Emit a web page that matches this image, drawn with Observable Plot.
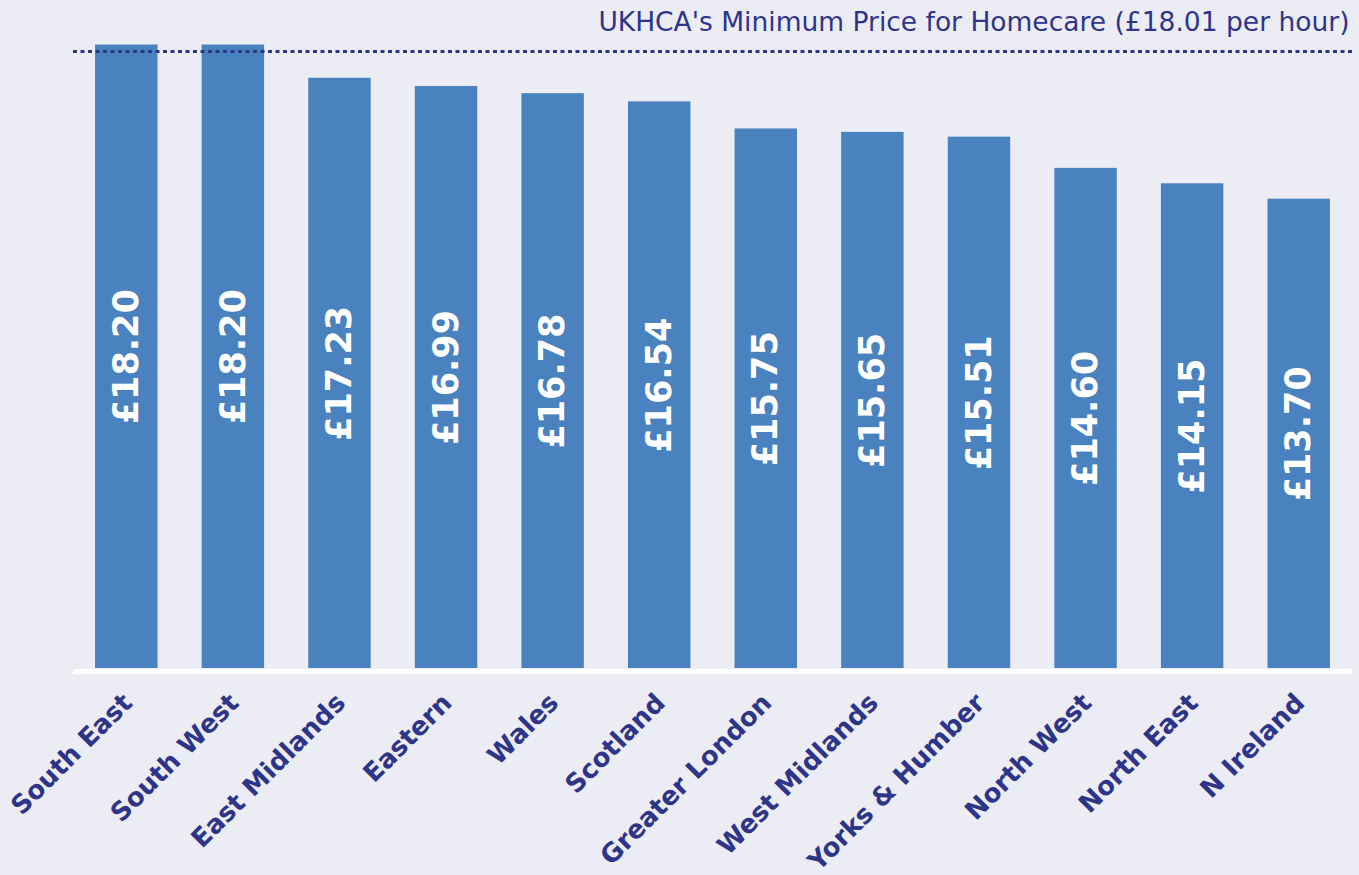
<!DOCTYPE html>
<html>
<head>
<meta charset="utf-8">
<script src="https://cdn.jsdelivr.net/npm/d3@7"></script>
<script src="https://cdn.jsdelivr.net/npm/@observablehq/plot@0.6"></script>
<style>
  html, body { margin: 0; padding: 0; background: #ECECF4; }
</style>
</head>
<body>
<div id="chart"></div>
<script>
const regions = ["South East", "South West", "East Midlands", "Eastern", "Wales", "Scotland", "Greater London", "West Midlands", "Yorks & Humber", "North West", "North East", "N Ireland"];
const prices = [18.20, 18.20, 17.23, 16.99, 16.78, 16.54, 15.75, 15.65, 15.51, 14.60, 14.15, 13.70];
const minimumPrice = 18.01;
const titleText = "UKHCA's Minimum Price for Homecare (£18.01 per hour)";

const data = regions.map((region, i) => ({region, price: prices[i]}));

const navy = "#2E3589";
const barBlue = "#4A82C0";

const chart = Plot.plot({
  width: 1359,
  height: 875,
  marginLeft: 73,
  marginRight: 7,
  marginTop: 0,
  marginBottom: 207,
  style: {background: "#ECECF4", fontFamily: "DejaVu Sans, Verdana, sans-serif"},
  x: {domain: regions, paddingInner: 0.414, paddingOuter: 0.207, round: false, label: null},
  y: {domain: [0, 19.5], axis: null},
  marks: [
    Plot.barY(data, {x: "region", y: "price", fill: barBlue}),
    Plot.ruleY([0], {stroke: "white", strokeWidth: 5, dy: 3}),
    Plot.ruleY([minimumPrice], {stroke: navy, strokeWidth: 3, strokeDasharray: "4,3.5"}),
    Plot.text(data, {
      x: "region",
      y: d => d.price / 2,
      text: d => "£" + d.price.toFixed(2),
      rotate: -90,
      fill: "white",
      fontWeight: "bold",
      fontSize: 35
    }),
    Plot.text([titleText], {
      frameAnchor: "top-right",
      text: d => d,
      dx: -3,
      dy: 12,
      fill: navy,
      fontSize: 26.5
    }),
    Plot.axisX({
      tickSize: 0,
      tickPadding: 30,
      tickRotate: -45,
      fontSize: 26,
      fontWeight: "bold",
      fill: navy,
      dx: 1,
      label: null
    })
  ]
});

document.getElementById("chart").appendChild(chart);
</script>
</body>
</html>
